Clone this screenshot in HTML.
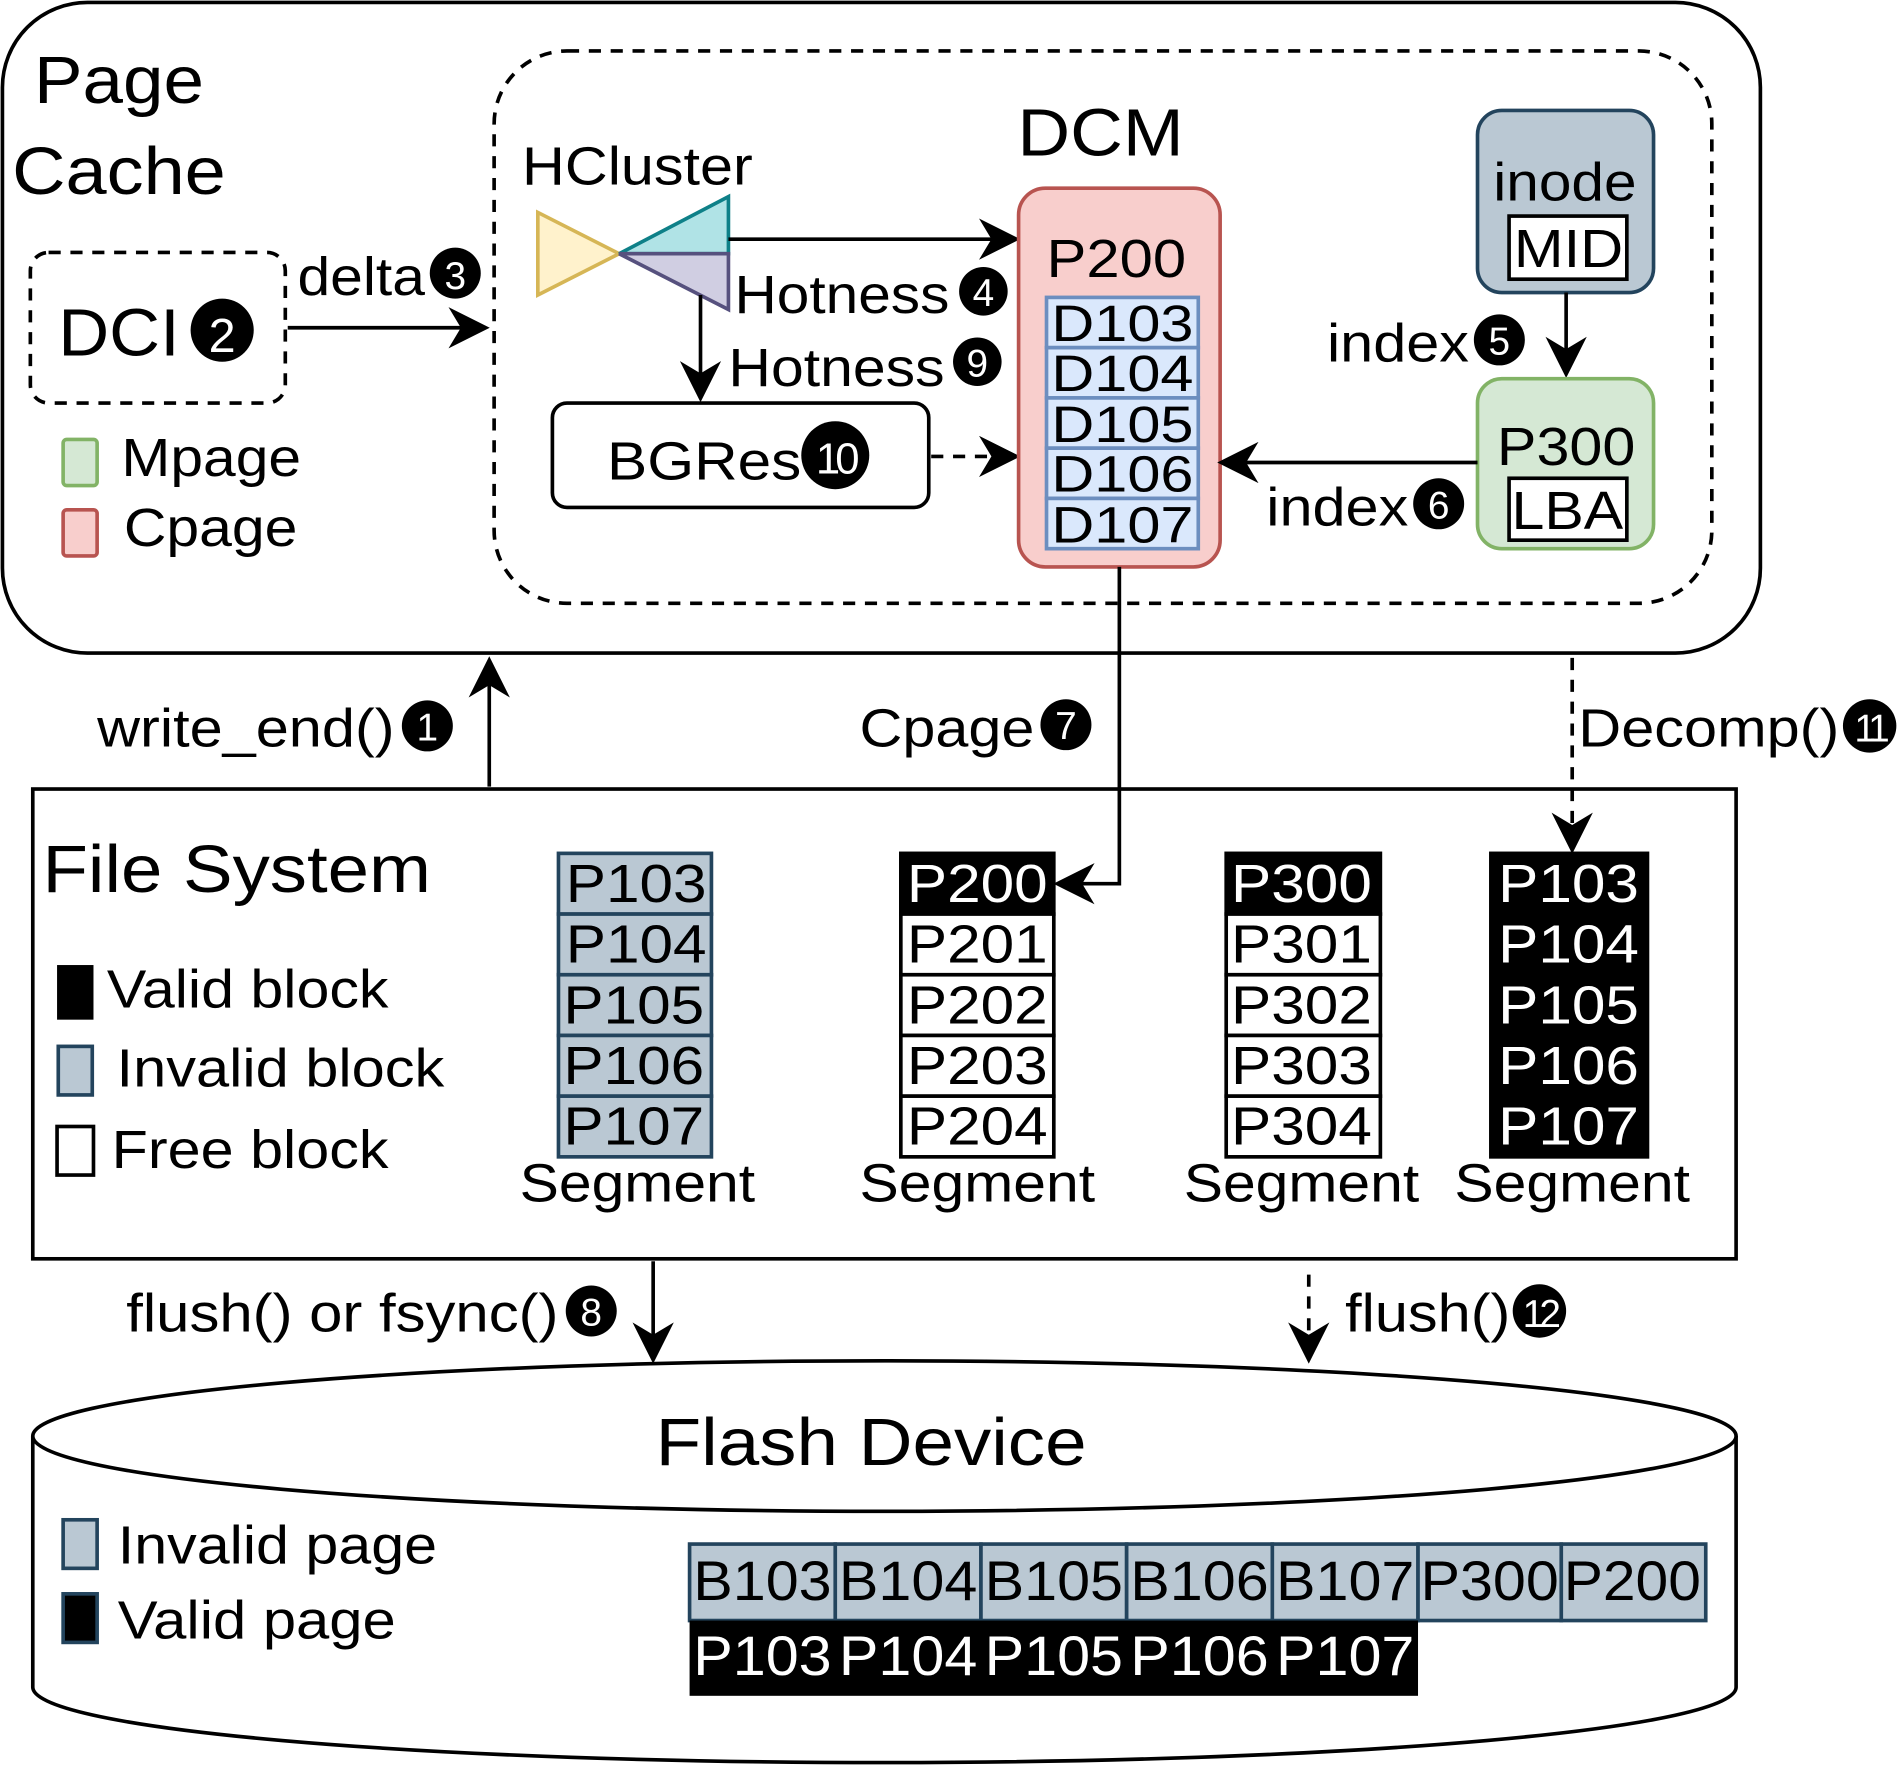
<!DOCTYPE html>
<html><head><meta charset="utf-8"><style>
html,body{margin:0;padding:0;background:#fff}
svg{display:block}
text{font-family:"Liberation Sans",Arial,sans-serif;fill:#000}
.w{fill:#fff}
</style></head><body>
<svg width="1900" height="1765" viewBox="0 0 1565 1454" preserveAspectRatio="none" xmlns="http://www.w3.org/2000/svg">
<defs>
<marker id="b" viewBox="0 0 10 10" refX="9" refY="5" markerWidth="34" markerHeight="34" orient="auto" markerUnits="userSpaceOnUse">
<path d="M0,0 L10,5 L0,10 L3,5 Z" fill="#000"/></marker>
</defs>
<g stroke="#000" stroke-width="3" fill="none">
<rect x="2" y="2" width="1448" height="536" rx="70"/>
<rect x="407" y="42" width="1003" height="455" rx="60" stroke-dasharray="10,8"/>
<rect x="25" y="208" width="210" height="124" rx="15" stroke-dasharray="10,8"/>
<rect x="27" y="650" width="1403" height="387"/>
</g>
<text x="28" y="85" font-size="55" textLength="140" lengthAdjust="spacingAndGlyphs">Page</text>
<text x="10" y="160" font-size="55" textLength="176" lengthAdjust="spacingAndGlyphs">Cache</text>
<text x="838" y="128" font-size="55" textLength="137" lengthAdjust="spacingAndGlyphs">DCM</text>
<text x="48" y="293" font-size="55" textLength="100" lengthAdjust="spacingAndGlyphs">DCI</text>
<circle cx="183" cy="272" r="26"/><text x="183" y="290" font-size="40" text-anchor="middle" class="w">2</text>
<line x1="237" y1="270" x2="400" y2="270" stroke="#000" stroke-width="3" marker-end="url(#b)"/>
<text x="245" y="243" font-size="44" textLength="105" lengthAdjust="spacingAndGlyphs">delta</text>
<circle cx="375" cy="225" r="21"/><text x="375" y="238" font-size="32" text-anchor="middle" class="w">3</text>
<rect x="52" y="362" width="28" height="38" rx="3" fill="#d5e8d4" stroke="#82b366" stroke-width="3"/>
<text x="100" y="392" font-size="44" textLength="148" lengthAdjust="spacingAndGlyphs">Mpage</text>
<rect x="52" y="420" width="28" height="38" rx="3" fill="#f8cecc" stroke="#b85450" stroke-width="3"/>
<text x="102" y="450" font-size="44" textLength="143" lengthAdjust="spacingAndGlyphs">Cpage</text>
<text x="430" y="152" font-size="44" textLength="190" lengthAdjust="spacingAndGlyphs">HCluster</text>
<polygon points="443,175 443,243 510,209" fill="#fff2cc" stroke="#d6b656" stroke-width="3"/>
<polygon points="510,209 600,162 600,209" fill="#b0e3e6" stroke="#0e8088" stroke-width="3"/>
<polygon points="510,209 600,209 600,255" fill="#d0cee2" stroke="#56517e" stroke-width="3"/>
<line x1="600" y1="197" x2="837" y2="197" stroke="#000" stroke-width="3" marker-end="url(#b)"/>
<text x="605" y="258" font-size="44" textLength="177" lengthAdjust="spacingAndGlyphs">Hotness</text>
<circle cx="810" cy="240" r="20"/><text x="810" y="252" font-size="32" text-anchor="middle" class="w">4</text>
<line x1="577" y1="243" x2="577" y2="328" stroke="#000" stroke-width="3" marker-end="url(#b)"/>
<text x="600" y="318" font-size="44" textLength="178" lengthAdjust="spacingAndGlyphs">Hotness</text>
<circle cx="805" cy="298" r="20"/><text x="805" y="310" font-size="32" text-anchor="middle" class="w">9</text>
<rect x="455" y="332" width="310" height="86" rx="12" fill="#fff" stroke="#000" stroke-width="3"/>
<text x="500" y="395" font-size="44" textLength="160" lengthAdjust="spacingAndGlyphs">BGRes</text>
<circle cx="688" cy="375" r="28"/><text x="688" y="390" font-size="36" text-anchor="middle" class="w" letter-spacing="-4">10</text>
<line x1="767" y1="376" x2="837" y2="376" stroke="#000" stroke-width="3" stroke-dasharray="10,8" marker-end="url(#b)"/>
<rect x="839" y="155" width="166" height="312" rx="22" fill="#f8cecc" stroke="#b85450" stroke-width="3"/>
<text x="862" y="228" font-size="44" textLength="115" lengthAdjust="spacingAndGlyphs">P200</text>
<g fill="#dae8fc" stroke="#6c8ebf" stroke-width="3">
<rect x="862" y="245" width="125" height="41.4"/><rect x="862" y="286.4" width="125" height="41.4"/><rect x="862" y="327.8" width="125" height="41.4"/><rect x="862" y="369.2" width="125" height="41.4"/><rect x="862" y="410.6" width="125" height="41.4"/>
</g>
<g font-size="42"><text x="866" y="281" textLength="117" lengthAdjust="spacingAndGlyphs">D103</text><text x="866" y="322" textLength="117" lengthAdjust="spacingAndGlyphs">D104</text><text x="866" y="364" textLength="117" lengthAdjust="spacingAndGlyphs">D105</text><text x="866" y="405" textLength="117" lengthAdjust="spacingAndGlyphs">D106</text><text x="866" y="447" textLength="117" lengthAdjust="spacingAndGlyphs">D107</text></g>
<rect x="1217" y="91" width="145" height="150" rx="20" fill="#bac8d3" stroke="#23445d" stroke-width="3"/>
<text x="1230" y="165" font-size="44" textLength="118" lengthAdjust="spacingAndGlyphs">inode</text>
<rect x="1243" y="178" width="97" height="52" fill="#fff" stroke="#000" stroke-width="3"/>
<text x="1247" y="220" font-size="44" textLength="90" lengthAdjust="spacingAndGlyphs">MID</text>
<line x1="1290" y1="241" x2="1290" y2="308" stroke="#000" stroke-width="3" marker-end="url(#b)"/>
<text x="1093" y="298" font-size="44" textLength="117" lengthAdjust="spacingAndGlyphs">index</text>
<circle cx="1235" cy="280" r="21"/><text x="1235" y="292" font-size="32" text-anchor="middle" class="w">5</text>
<rect x="1217" y="312" width="145" height="140" rx="20" fill="#d5e8d4" stroke="#82b366" stroke-width="3"/>
<text x="1233" y="383" font-size="44" textLength="114" lengthAdjust="spacingAndGlyphs">P300</text>
<rect x="1243" y="394" width="97" height="51" fill="#fff" stroke="#000" stroke-width="3"/>
<text x="1245" y="436" font-size="44" textLength="92" lengthAdjust="spacingAndGlyphs">LBA</text>
<line x1="1217" y1="381" x2="1006" y2="381" stroke="#000" stroke-width="3" marker-end="url(#b)"/>
<text x="1043" y="433" font-size="44" textLength="117" lengthAdjust="spacingAndGlyphs">index</text>
<circle cx="1185" cy="415" r="21"/><text x="1185" y="427" font-size="32" text-anchor="middle" class="w">6</text>
<polyline points="922,467 922,728 871,728" fill="none" stroke="#000" stroke-width="3" marker-end="url(#b)"/>
<text x="708" y="615" font-size="44" textLength="144" lengthAdjust="spacingAndGlyphs">Cpage</text>
<circle cx="878" cy="597" r="21"/><text x="878" y="609" font-size="32" text-anchor="middle" class="w">7</text>
<line x1="403" y1="648" x2="403" y2="544" stroke="#000" stroke-width="3" marker-end="url(#b)"/>
<text x="80" y="615" font-size="44" textLength="245" lengthAdjust="spacingAndGlyphs">write_end()</text>
<circle cx="352" cy="598" r="21"/><text x="352" y="610" font-size="32" text-anchor="middle" class="w">1</text>
<line x1="1295" y1="542" x2="1295" y2="700" stroke="#000" stroke-width="3" stroke-dasharray="10,8" marker-end="url(#b)"/>
<text x="1300" y="615" font-size="44" textLength="215" lengthAdjust="spacingAndGlyphs">Decomp()</text>
<circle cx="1540" cy="598" r="22"/><text x="1540" y="611" font-size="32" text-anchor="middle" class="w" letter-spacing="-4">11</text>
<text x="35" y="735" font-size="55" textLength="320" lengthAdjust="spacingAndGlyphs">File System</text>
<rect x="47" y="795" width="30" height="45" fill="#000"/>
<text x="88" y="830" font-size="44" textLength="232" lengthAdjust="spacingAndGlyphs">Valid block</text>
<rect x="48" y="862" width="28" height="40" fill="#bac8d3" stroke="#23445d" stroke-width="3"/>
<text x="96" y="895" font-size="44" textLength="270" lengthAdjust="spacingAndGlyphs">Invalid block</text>
<rect x="47" y="928" width="30" height="40" fill="#fff" stroke="#000" stroke-width="3"/>
<text x="92" y="962" font-size="44" textLength="228" lengthAdjust="spacingAndGlyphs">Free block</text>
<g stroke-width="3">
<g fill="#bac8d3" stroke="#23445d"><rect x="460" y="703" width="126" height="50"/><rect x="460" y="753" width="126" height="50"/><rect x="460" y="803" width="126" height="50"/><rect x="460" y="853" width="126" height="50"/><rect x="460" y="903" width="126" height="50"/></g>
<rect x="742" y="703" width="126" height="50" fill="#000" stroke="#000"/>
<g fill="#fff" stroke="#000"><rect x="742" y="753" width="126" height="50"/><rect x="742" y="803" width="126" height="50"/><rect x="742" y="853" width="126" height="50"/><rect x="742" y="903" width="126" height="50"/></g>
<rect x="1010" y="703" width="127" height="50" fill="#000" stroke="#000"/>
<g fill="#fff" stroke="#000"><rect x="1010" y="753" width="127" height="50"/><rect x="1010" y="803" width="127" height="50"/><rect x="1010" y="853" width="127" height="50"/><rect x="1010" y="903" width="127" height="50"/></g>
<rect x="1228" y="703" width="129" height="250" fill="#000" stroke="#000"/>
</g>
<g font-size="44">
<text x="466" y="743" textLength="116" lengthAdjust="spacingAndGlyphs">P103</text><text x="466" y="793" textLength="116" lengthAdjust="spacingAndGlyphs">P104</text><text x="464" y="843" textLength="116" lengthAdjust="spacingAndGlyphs">P105</text><text x="464" y="893" textLength="116" lengthAdjust="spacingAndGlyphs">P106</text><text x="464" y="943" textLength="116" lengthAdjust="spacingAndGlyphs">P107</text>
<text x="747" y="743" class="w" textLength="116" lengthAdjust="spacingAndGlyphs">P200</text><text x="747" y="793" textLength="116" lengthAdjust="spacingAndGlyphs">P201</text><text x="747" y="843" textLength="116" lengthAdjust="spacingAndGlyphs">P202</text><text x="747" y="893" textLength="116" lengthAdjust="spacingAndGlyphs">P203</text><text x="747" y="943" textLength="116" lengthAdjust="spacingAndGlyphs">P204</text>
<text x="1014" y="743" class="w" textLength="116" lengthAdjust="spacingAndGlyphs">P300</text><text x="1014" y="793" textLength="116" lengthAdjust="spacingAndGlyphs">P301</text><text x="1014" y="843" textLength="116" lengthAdjust="spacingAndGlyphs">P302</text><text x="1014" y="893" textLength="116" lengthAdjust="spacingAndGlyphs">P303</text><text x="1014" y="943" textLength="116" lengthAdjust="spacingAndGlyphs">P304</text>
<text x="1234" y="743" class="w" textLength="116" lengthAdjust="spacingAndGlyphs">P103</text><text x="1234" y="793" class="w" textLength="116" lengthAdjust="spacingAndGlyphs">P104</text><text x="1234" y="843" class="w" textLength="116" lengthAdjust="spacingAndGlyphs">P105</text><text x="1234" y="893" class="w" textLength="116" lengthAdjust="spacingAndGlyphs">P106</text><text x="1234" y="943" class="w" textLength="116" lengthAdjust="spacingAndGlyphs">P107</text>
<text x="428" y="990" textLength="194" lengthAdjust="spacingAndGlyphs">Segment</text><text x="708" y="990" textLength="194" lengthAdjust="spacingAndGlyphs">Segment</text><text x="975" y="990" textLength="194" lengthAdjust="spacingAndGlyphs">Segment</text><text x="1198" y="990" textLength="194" lengthAdjust="spacingAndGlyphs">Segment</text>
</g>
<line x1="538" y1="1039" x2="538" y2="1120" stroke="#000" stroke-width="3" marker-end="url(#b)"/>
<text x="104" y="1097" font-size="44" textLength="356" lengthAdjust="spacingAndGlyphs">flush() or fsync()</text>
<circle cx="487" cy="1080" r="21"/><text x="487" y="1092" font-size="32" text-anchor="middle" class="w">8</text>
<line x1="1078" y1="1050" x2="1078" y2="1120" stroke="#000" stroke-width="3" stroke-dasharray="10,8" marker-end="url(#b)"/>
<text x="1108" y="1097" font-size="44" textLength="136" lengthAdjust="spacingAndGlyphs">flush()</text>
<circle cx="1268" cy="1080" r="22"/><text x="1268" y="1093" font-size="32" text-anchor="middle" class="w" letter-spacing="-4">12</text>
<path d="M27,1183 L27,1390 A701.5,62 0 0 0 1430,1390 L1430,1183" fill="#fff" stroke="#000" stroke-width="3"/>
<ellipse cx="728.5" cy="1183" rx="701.5" ry="62" fill="#fff" stroke="#000" stroke-width="3"/>
<text x="540" y="1207" font-size="55" textLength="355" lengthAdjust="spacingAndGlyphs">Flash Device</text>
<rect x="52" y="1252" width="28" height="40" fill="#bac8d3" stroke="#23445d" stroke-width="3"/>
<text x="97" y="1288" font-size="44" textLength="263" lengthAdjust="spacingAndGlyphs">Invalid page</text>
<rect x="52" y="1313" width="28" height="40" fill="#000" stroke="#23445d" stroke-width="3"/>
<text x="97" y="1350" font-size="44" textLength="229" lengthAdjust="spacingAndGlyphs">Valid page</text>
<g fill="#bac8d3" stroke="#23445d" stroke-width="3">
<rect x="568" y="1272" width="120" height="63"/><rect x="688" y="1272" width="120" height="63"/><rect x="808" y="1272" width="120" height="63"/><rect x="928" y="1272" width="120" height="63"/><rect x="1048" y="1272" width="120" height="63"/><rect x="1168" y="1272" width="118" height="63"/><rect x="1286" y="1272" width="119" height="63"/>
</g>
<rect x="568" y="1335" width="600" height="62" fill="#000"/>
<g font-size="46">
<text x="571" y="1318" textLength="114" lengthAdjust="spacingAndGlyphs">B103</text><text x="691" y="1318" textLength="114" lengthAdjust="spacingAndGlyphs">B104</text><text x="811" y="1318" textLength="114" lengthAdjust="spacingAndGlyphs">B105</text><text x="931" y="1318" textLength="114" lengthAdjust="spacingAndGlyphs">B106</text><text x="1051" y="1318" textLength="114" lengthAdjust="spacingAndGlyphs">B107</text><text x="1170" y="1318" textLength="114" lengthAdjust="spacingAndGlyphs">P300</text><text x="1288" y="1318" textLength="113" lengthAdjust="spacingAndGlyphs">P200</text>
<text x="571" y="1380" class="w" textLength="114" lengthAdjust="spacingAndGlyphs">P103</text><text x="691" y="1380" class="w" textLength="114" lengthAdjust="spacingAndGlyphs">P104</text><text x="811" y="1380" class="w" textLength="114" lengthAdjust="spacingAndGlyphs">P105</text><text x="931" y="1380" class="w" textLength="114" lengthAdjust="spacingAndGlyphs">P106</text><text x="1051" y="1380" class="w" textLength="114" lengthAdjust="spacingAndGlyphs">P107</text>
</g>
</svg>
</body></html>
